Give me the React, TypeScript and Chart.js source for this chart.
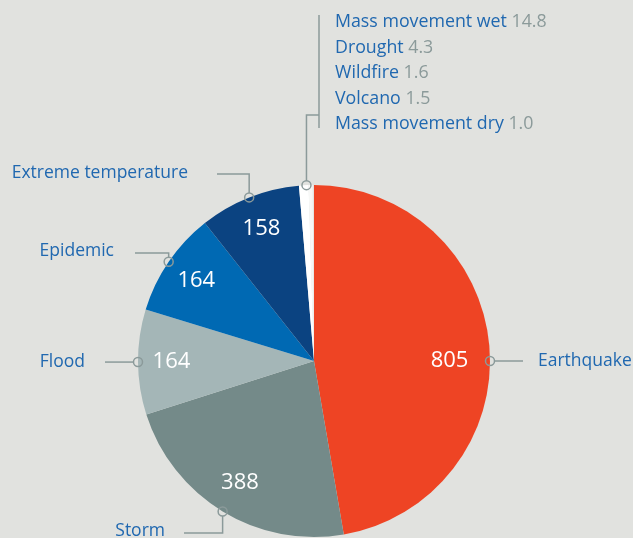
import { useEffect, useRef } from 'react';
import { Chart, registerables } from 'chart.js';
Chart.register(...registerables);

const categories = ['Earthquake', 'Storm', 'Flood', 'Epidemic', 'Extreme temperature', 'Mass movement wet', 'Drought', 'Wildfire', 'Volcano', 'Mass movement dry'];
const values = [805, 388, 164, 164, 158, 14.8, 4.3, 1.6, 1.5, 1.0];
const valueLabels = ['805', '388', '164', '164', '158', '14.8', '4.3', '1.6', '1.5', '1.0'];
const colors = ['#ee4424', '#748a89', '#a4b6b7', '#0069b3', '#0b4381', '#ffffff', '#f7f8f7', '#ffffff', '#f2f3f2', '#e1e2df'];
const mainCount = 5;

const BG = '#e1e2df';
const BLUE = '#2068b0';
const GRAY = '#8b9a9a';
const FONT = '"Open Sans", "Noto Sans", sans-serif';

type P = { x: number; y: number };
type Leader = (p: P) => { pts: number[][]; tx: number; ty: number; align: CanvasTextAlign };

const leaders: Leader[] = [
  (p) => ({ pts: [[p.x + 4.5, p.y], [523, p.y]], tx: 538, ty: p.y, align: 'left' }),
  (p) => ({ pts: [[p.x, p.y + 4.5], [p.x, 533], [184, 533]], tx: 165, ty: 531, align: 'right' }),
  (p) => ({ pts: [[p.x - 4.5, p.y], [105, p.y]], tx: 85, ty: p.y, align: 'right' }),
  (p) => ({ pts: [[p.x, p.y - 4.5], [p.x, 253], [135, 253]], tx: 114, ty: 251, align: 'right' }),
  (p) => ({ pts: [[p.x, p.y - 4.5], [p.x, 174], [217, 174]], tx: 188, ty: 173, align: 'right' }),
];

export default function App() {
  const ref = useRef<HTMLCanvasElement>(null);
  useEffect(() => {
    document.body.style.margin = '0';
    document.body.style.background = BG;
    const labelPlugin = {
      id: 'pieLabels',
      afterDatasetsDraw(chart: any) {
        const ctx = chart.ctx as CanvasRenderingContext2D;
        const arcs = chart.getDatasetMeta(0).data as any[];
        const polar = (a: any, ang: number, f: number): P => ({
          x: a.x + a.outerRadius * f * Math.cos(ang),
          y: a.y + a.outerRadius * f * Math.sin(ang),
        });
        const anchorAngle = (a: any) =>
          a.startAngle <= 0 && a.endAngle >= 0 ? 0 : (a.startAngle + a.endAngle) / 2;
        const line = (pts: number[][]) => {
          ctx.beginPath();
          ctx.moveTo(pts[0][0], pts[0][1]);
          for (let i = 1; i < pts.length; i++) ctx.lineTo(pts[i][0], pts[i][1]);
          ctx.stroke();
        };
        const ring = (p: P) => {
          ctx.beginPath();
          ctx.arc(p.x, p.y, 4.5, 0, Math.PI * 2);
          ctx.stroke();
        };
        ctx.save();
        ctx.strokeStyle = GRAY;
        ctx.lineWidth = 1.5;
        ctx.textBaseline = 'middle';
        for (let i = 0; i < mainCount; i++) {
          const a = arcs[i];
          const ang = anchorAngle(a);
          const v = polar(a, ang, i === 0 ? 0.77 : 0.81);
          ctx.fillStyle = '#ffffff';
          ctx.font = `22px ${FONT}`;
          ctx.textAlign = 'center';
          ctx.fillText(valueLabels[i], v.x, v.y);
          const m = polar(a, ang, 1);
          const L = leaders[i](m);
          line(L.pts);
          ring(m);
          ctx.fillStyle = BLUE;
          ctx.font = `17.5px ${FONT}`;
          ctx.textAlign = L.align;
          ctx.fillText(categories[i], L.tx, L.ty);
        }
        // small categories group
        const first = arcs[mainCount];
        const last = arcs[arcs.length - 1];
        const gAng = (first.startAngle + last.endAngle) / 2;
        const gm = polar(first, gAng, 1);
        line([[gm.x, gm.y - 4.5], [gm.x, 115], [319, 115]]);
        line([[319, 15], [319, 128]]);
        ring(gm);
        ctx.textAlign = 'left';
        ctx.font = `17.8px ${FONT}`;
        for (let i = mainCount; i < categories.length; i++) {
          const y = 22 + (i - mainCount) * 25.5;
          ctx.fillStyle = BLUE;
          ctx.fillText(categories[i], 335, y);
          const w = ctx.measureText(categories[i] + ' ').width;
          ctx.fillStyle = GRAY;
          ctx.fillText(valueLabels[i], 335 + w, y);
        }
        ctx.restore();
      },
    };
    const chart = new Chart(ref.current as HTMLCanvasElement, {
      type: 'pie',
      data: {
        labels: categories,
        datasets: [{ data: values, backgroundColor: colors, borderWidth: 0 }],
      },
      options: {
        animation: false,
        responsive: false,
        maintainAspectRatio: false,
        layout: { padding: { top: 185, bottom: 1, left: 138, right: 143 } },
        plugins: { legend: { display: false }, tooltip: { enabled: false } },
      },
      plugins: [labelPlugin],
    });
    return () => chart.destroy();
  }, []);
  return (
    <div style={{ width: 633, height: 538, background: BG }}>
      <canvas ref={ref} width={633} height={538} style={{ display: 'block' }} />
    </div>
  );
}
